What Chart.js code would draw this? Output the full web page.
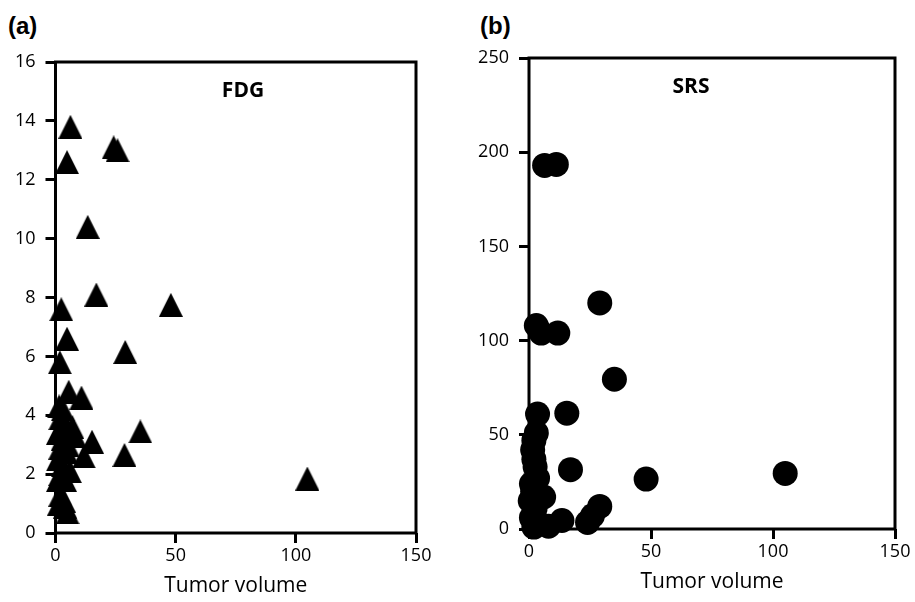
<!DOCTYPE html>
<html>
<head>
<meta charset="utf-8">
<script src="https://cdn.jsdelivr.net/npm/chart.js@4.4.0/dist/chart.umd.min.js"></script>
<style>
body{margin:0;background:#fff;width:915px;height:602px;position:relative;overflow:hidden}
canvas{position:absolute;top:0}
.lab{position:absolute;top:12px;font:bold 24px "Liberation Sans",Arial,sans-serif;line-height:28px}
</style>
</head>
<body>
<div class="lab" style="left:8px">(a)</div>
<div class="lab" style="left:480px">(b)</div>
<canvas id="fdg" width="457" height="602" style="left:0"></canvas>
<canvas id="srs" width="458" height="602" style="left:457px"></canvas>
<script>
// (a) FDG vs tumor volume
var fdgVol = [6.2, 4.8, 24.2, 25.8, 13.4, 17, 2.4, 48, 4.8, 29, 1.8, 5.5, 10.8, 35.3, 15.2, 11.8, 28.7, 104.8,
    1.5, 3, 2, 4, 1, 3, 5, 2, 4.5, 1, 3, 6, 2, 4, 1, 2, 3.5, 1.5, 4, 5, 7, 8];
var fdgVal = [13.8, 12.6, 13.1, 13.0, 10.4, 8.1, 7.6, 7.75, 6.6, 6.15, 5.8, 4.8, 4.6, 3.45, 3.1, 2.6, 2.65, 1.85,
    4.3, 4.2, 3.9, 3.7, 3.4, 3.2, 3.0, 2.9, 2.75, 2.5, 2.3, 2.1, 2.0, 1.8, 1.8, 1.3, 1.1, 1.0, 0.9, 0.7, 3.6, 3.3];

// (b) SRS vs tumor volume
var srsVol = [6.4, 11.2, 3, 5, 11.8, 29, 35, 3.5, 15.5, 17, 48, 105, 29, 26, 24, 13.5,
    3, 2, 1.5, 2, 2.5, 1, 6, 0.5, 2.5, 1, 4, 2, 8, 1.5, 3.5];
var srsVal = [193, 193.5, 108, 104, 104, 120, 79.5, 61, 61.5, 31.5, 26.5, 29.5, 12, 7, 3.5, 4.5,
    51, 47, 42, 37, 33, 24, 17, 15, 11, 6, 3, 1, 1.5, 20, 27];

var volMax = 150, volStep = 50;
var fdgMax = 16, fdgStep = 2;
var srsMax = 250, srsStep = 50;

function pts(xs, ys) {
    return xs.map(function(x, i){ return {x: x, y: ys[i]} })
}

// excel style triangle marker
var tri = document.createElement('canvas');
tri.width = 24; tri.height = 24;
var tc = tri.getContext('2d');
tc.fillStyle = '#000';
tc.beginPath();
tc.moveTo(12, 0); tc.lineTo(24, 24); tc.lineTo(0, 24);
tc.closePath(); tc.fill();

var tickFont = {family: '"Open Sans", sans-serif', size: 18};

var framePlugin = {
    id: 'frame',
    beforeDatasetsDraw: function(chart) {
        var a = chart.chartArea, ctx = chart.ctx;
        ctx.save();
        ctx.strokeStyle = '#000';
        ctx.lineWidth = 3;
        ctx.strokeRect(a.left, a.top, a.right - a.left, a.bottom - a.top);
        ctx.restore();
    },
    afterDraw: function(chart, args, opts) {
        var a = chart.chartArea, ctx = chart.ctx;
        ctx.save();
        ctx.font = 'bold 21px "Open Sans", sans-serif';
        ctx.fillStyle = '#000';
        ctx.textAlign = 'center';
        ctx.textBaseline = 'middle';
        ctx.fillText(opts.text, opts.cx, a.top + 29);
        ctx.restore();
    }
};

function makeChart(id, data, style, radius, yMax, yStep, pad, yWidth, label) {
    return new Chart(document.getElementById(id), {
        type: 'scatter',
        data: {
            datasets: [{
                data: data,
                pointStyle: style,
                pointRadius: radius,
                pointHoverRadius: radius,
                backgroundColor: '#000',
                borderColor: '#000',
                borderWidth: 0,
                clip: false
            }]
        },
        options: {
            responsive: false,
            animation: false,
            layout: {padding: pad},
            plugins: {
                legend: {display: false},
                tooltip: {enabled: false},
                frame: {text: label.text, cx: label.cx}
            },
            scales: {
                x: {
                    min: 0, max: volMax,
                    afterFit: function(s){ s.height = 69 },
                    border: {display: false},
                    grid: {drawOnChartArea: false, drawTicks: true, tickLength: 10, lineWidth: 3, color: '#000'},
                    ticks: {stepSize: volStep, color: '#000', font: tickFont, padding: 2, maxRotation: 0},
                    title: {display: true, text: 'Tumor volume', color: '#000',
                        font: {family: '"Open Sans", sans-serif', size: 21}, padding: {top: 0, bottom: 3}}
                },
                y: {
                    min: 0, max: yMax,
                    afterFit: function(s){ s.width = yWidth },
                    border: {display: false},
                    grid: {drawOnChartArea: false, drawTicks: true, tickLength: 10, lineWidth: 3, color: '#000'},
                    ticks: {stepSize: yStep, color: '#000', font: tickFont, padding: 10}
                }
            }
        },
        plugins: [framePlugin]
    });
}

makeChart('fdg', pts(fdgVol, fdgVal), tri, 12, fdgMax, fdgStep,
    {left: 0, right: 41, top: 62, bottom: 0}, 55.5, {text: 'FDG', cx: 243});
makeChart('srs', pts(srsVol, srsVal), 'circle', 12.5, srsMax, srsStep,
    {left: 0, right: 20, top: 58, bottom: 4}, 72, {text: 'SRS', cx: 234});
</script>
</body>
</html>
